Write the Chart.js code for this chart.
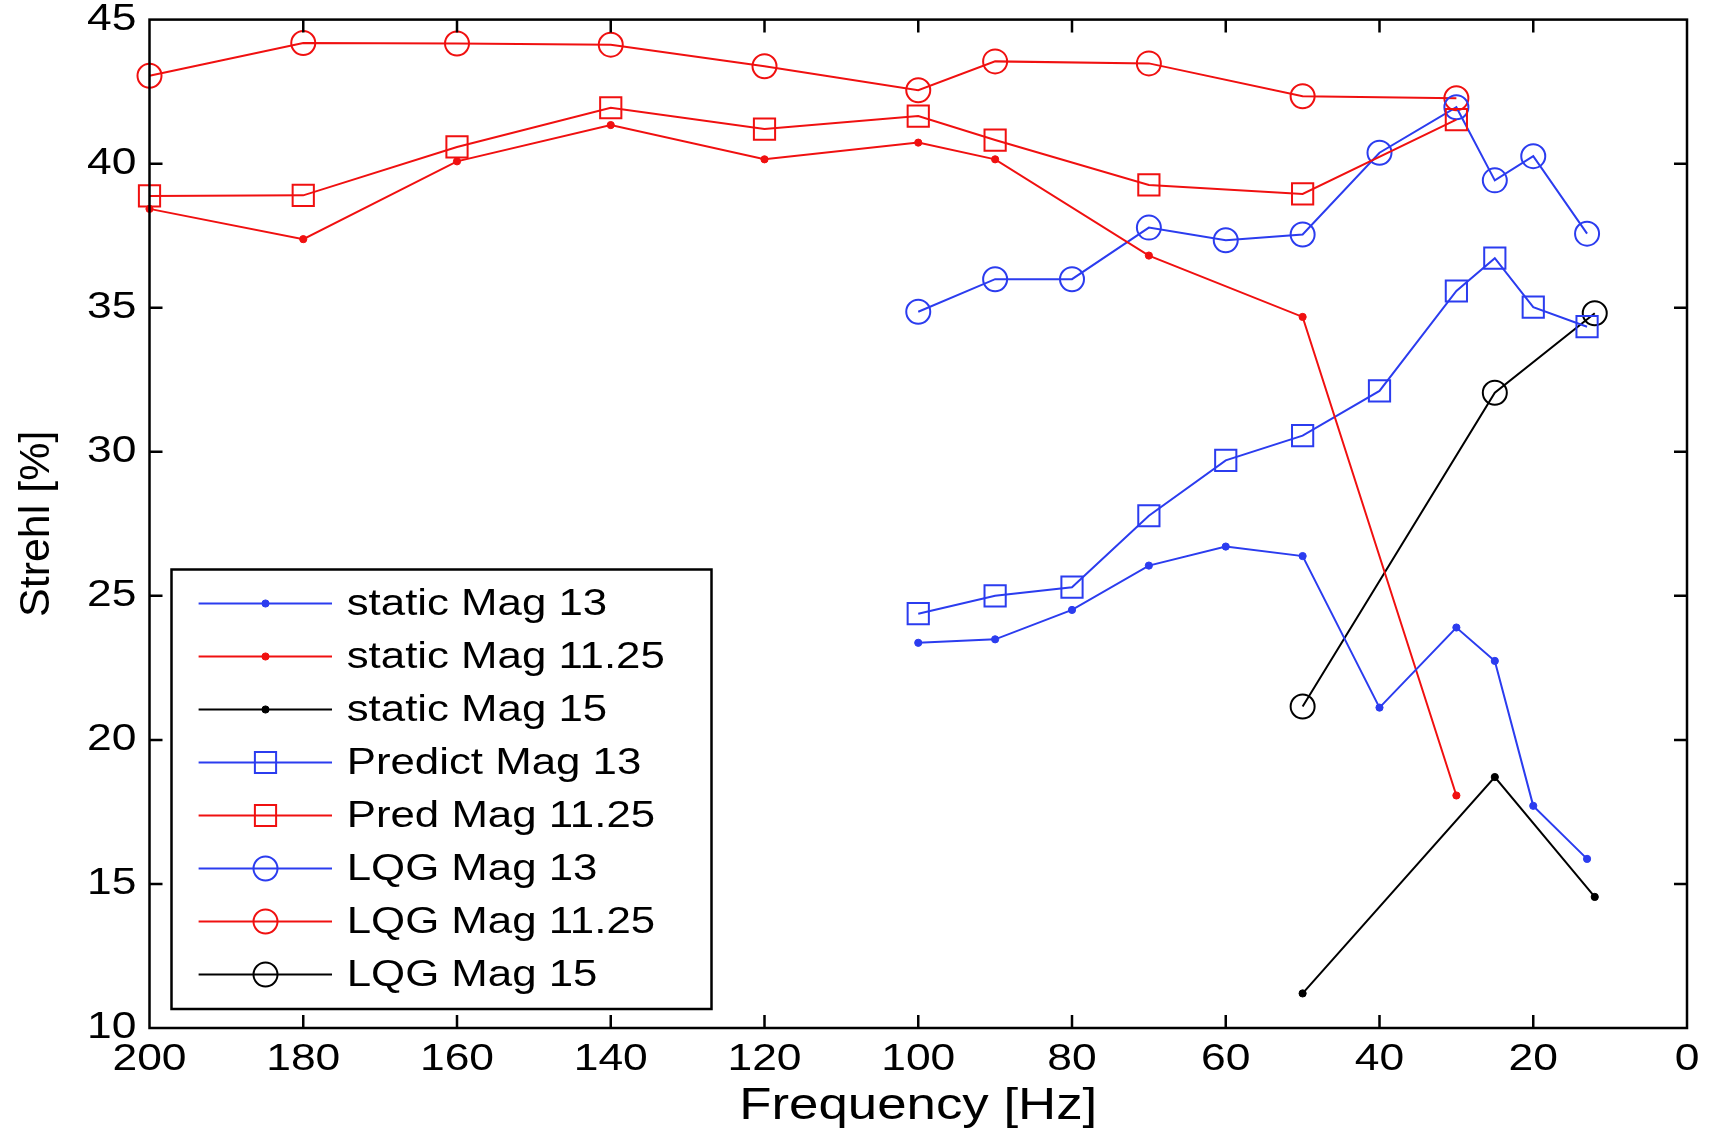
<!DOCTYPE html>
<html><head><meta charset="utf-8">
<script src="https://cdn.jsdelivr.net/npm/chart.js@4/dist/chart.umd.min.js"></script>
<style>html,body{margin:0;padding:0;background:#fff;}#wrap{width:1711px;height:1133px;position:relative;}canvas{display:block;}</style>
</head><body><div id="wrap"><canvas id="c" width="1711" height="1133"></canvas></div>
<script>
// ---- data ----
const freqMag13   = [100, 90, 80, 70, 60, 50, 40, 30, 25, 20, 13];
const freqMag1125 = [200, 180, 160, 140, 120, 100, 90, 70, 50, 30];
const freqMag15   = [50, 25, 12];

const staticMag13   = [23.37, 23.49, 24.51, 26.05, 26.71, 26.38, 21.12, 23.90, 22.74, 17.71, 15.87];
const staticMag1125 = [38.43, 37.38, 40.08, 41.34, 40.15, 40.73, 40.15, 36.81, 34.68, 18.07];
const staticMag15   = [11.20, 18.71, 14.55];
const predictMag13  = [24.38, 25.00, 25.30, 27.78, 29.70, 30.56, 32.11, 35.58, 36.72, 35.02, 34.34];
const predMag1125   = [38.88, 38.90, 40.58, 41.94, 41.20, 41.65, 40.82, 39.26, 38.95, 41.53];
const lqgMag13      = [34.86, 35.99, 35.99, 37.78, 37.34, 37.54, 40.38, 41.96, 39.42, 40.26, 37.57];
const lqgMag1125    = [43.05, 44.19, 44.17, 44.13, 43.38, 42.55, 43.55, 43.48, 42.34, 42.27];
const lqgMag15      = [21.16, 32.05, 34.81];

const xTickValues = [0, 20, 40, 60, 80, 100, 120, 140, 160, 180, 200];
const yTickValues = [10, 15, 20, 25, 30, 35, 40, 45];

const seriesNames = ['static Mag 13', 'static Mag 11.25', 'static Mag 15',
  'Predict Mag 13', 'Pred Mag 11.25', 'LQG Mag 13', 'LQG Mag 11.25', 'LQG Mag 15'];

// ---- styling ----
const BLUE = '#2b3cef', RED = '#f01010', BLACK = '#000000';
const FONT = "'Liberation Sans', Arial, Helvetica, sans-serif";
const TEXT_STRETCH = 1.2; // the reference's lettering is horizontally wide

// widen horizontal canvas text (rotated text is left as is)
(function () {
  const orig = CanvasRenderingContext2D.prototype.fillText;
  CanvasRenderingContext2D.prototype.fillText = function (t, x, y, mw) {
    const m = this.getTransform();
    if (Math.abs(m.b) > 1e-6 || Math.abs(m.c) > 1e-6) {
      return mw === undefined ? orig.call(this, t, x, y) : orig.call(this, t, x, y, mw);
    }
    this.save();
    this.translate(x, y);
    this.scale(TEXT_STRETCH, 1);
    orig.call(this, t, 0, 0);
    this.restore();
  };
})();

const zip = (xs, ys) => xs.map((x, i) => ({x: x, y: ys[i]}));

function ds(label, xs, ys, color, kind) {
  const base = {label: label, data: zip(xs, ys), borderColor: color, backgroundColor: color,
    borderWidth: 2, pointBorderWidth: 2, clip: false, tension: 0, showLine: true};
  if (kind === 'dot') Object.assign(base, {pointStyle: 'circle', pointRadius: 3.6, pointBackgroundColor: color, pointBorderWidth: 1});
  if (kind === 'square') Object.assign(base, {pointStyle: 'rect', pointRadius: 15, pointBackgroundColor: 'rgba(0,0,0,0)'});
  if (kind === 'circle') Object.assign(base, {pointStyle: 'circle', pointRadius: 12, pointBackgroundColor: 'rgba(0,0,0,0)'});
  base.pointHoverRadius = base.pointRadius;
  return base;
}

const datasets = [
  ds(seriesNames[0], freqMag13, staticMag13, BLUE, 'dot'),
  ds(seriesNames[1], freqMag1125, staticMag1125, RED, 'dot'),
  ds(seriesNames[2], freqMag15, staticMag15, BLACK, 'dot'),
  ds(seriesNames[3], freqMag13, predictMag13, BLUE, 'square'),
  ds(seriesNames[4], freqMag1125, predMag1125, RED, 'square'),
  ds(seriesNames[5], freqMag13, lqgMag13, BLUE, 'circle'),
  ds(seriesNames[6], freqMag1125, lqgMag1125, RED, 'circle'),
  ds(seriesNames[7], freqMag15, lqgMag15, BLACK, 'circle')
];

const framePlugin = {
  id: 'frame',
  afterDatasetsDraw(chart) {
    const {ctx, chartArea: a, scales: {x, y}} = chart;
    ctx.save();
    ctx.strokeStyle = '#000'; ctx.lineWidth = 2.5;
    ctx.strokeRect(a.left, a.top, a.right - a.left, a.bottom - a.top);
    const L = 13;
    ctx.beginPath();
    x.ticks.forEach(t => {
      const p = x.getPixelForValue(t.value);
      if (p > a.left + 2 && p < a.right - 2) {
        ctx.moveTo(p, a.bottom); ctx.lineTo(p, a.bottom - L);
        ctx.moveTo(p, a.top); ctx.lineTo(p, a.top + L);
      }
    });
    y.ticks.forEach(t => {
      const p = y.getPixelForValue(t.value);
      if (p > a.top + 2 && p < a.bottom - 2) {
        ctx.moveTo(a.left, p); ctx.lineTo(a.left + L, p);
        ctx.moveTo(a.right, p); ctx.lineTo(a.right - L, p);
      }
    });
    ctx.stroke();
    ctx.restore();
  }
};

const legendPlugin = {
  id: 'boxLegend',
  afterDraw(chart) {
    const ctx = chart.ctx;
    const bx = 171.5, by = 569.5, bw = 540, bh = 439.5;
    ctx.save();
    ctx.fillStyle = '#fff';
    ctx.fillRect(bx, by, bw, bh);
    ctx.strokeStyle = '#000'; ctx.lineWidth = 2.5;
    ctx.strokeRect(bx, by, bw, bh);
    chart.data.datasets.forEach((d, i) => {
      const yy = by + 34 + i * 53;
      ctx.strokeStyle = d.borderColor; ctx.lineWidth = 2;
      ctx.beginPath(); ctx.moveTo(198.6, yy); ctx.lineTo(332, yy); ctx.stroke();
      ctx.fillStyle = d.pointBackgroundColor;
      ctx.lineWidth = d.pointBorderWidth;
      Chart.helpers.drawPoint(ctx, {pointStyle: d.pointStyle, radius: d.pointRadius, borderWidth: d.pointBorderWidth}, 265.5, yy);
      ctx.fillStyle = '#000';
      ctx.font = '36.5px ' + FONT;
      ctx.textBaseline = 'middle'; ctx.textAlign = 'left';
      ctx.fillText(d.label, 346.7, yy + 1);
    });
    ctx.restore();
  }
};

Chart.defaults.font.family = FONT;
Chart.defaults.color = '#000';

new Chart(document.getElementById('c'), {
  type: 'scatter',
  data: {datasets: datasets},
  plugins: [framePlugin, legendPlugin],
  options: {
    responsive: false,
    animation: false,
    devicePixelRatio: 1,
    layout: {padding: {top: 19.6, right: 24, left: 0, bottom: 0}},
    plugins: {legend: {display: false}, tooltip: {enabled: false}, title: {display: false}},
    scales: {
      x: {
        type: 'linear', reverse: true, min: 0, max: 200,
        afterBuildTicks: s => { s.ticks = xTickValues.map(v => ({value: v})); },
        afterFit: s => { s.height = 105; s.paddingLeft = 0; s.paddingRight = 0; },
        grid: {display: false, drawTicks: false},
        border: {display: false},
        ticks: {font: {size: 37, lineHeight: 1.2}, padding: 10, maxRotation: 0, autoSkip: false, color: '#000'},
        title: {display: true, text: 'Frequency [Hz]', font: {size: 44, lineHeight: 1}, padding: {top: 0, bottom: 4}, color: '#000'}
      },
      y: {
        type: 'linear', min: 10, max: 45,
        afterBuildTicks: s => { s.ticks = yTickValues.map(v => ({value: v})); },
        afterFit: s => { s.width = 149.5; s.paddingTop = 0; s.paddingBottom = 0; },
        grid: {display: false, drawTicks: false},
        border: {display: false},
        ticks: {font: {size: 37, lineHeight: 1}, padding: 13, autoSkip: false, color: '#000'},
        title: {display: true, text: 'Strehl [%]', font: {size: 43, lineHeight: 1}, padding: {top: 16, bottom: 0}, color: '#000'}
      }
    }
  }
});
</script></body></html>
